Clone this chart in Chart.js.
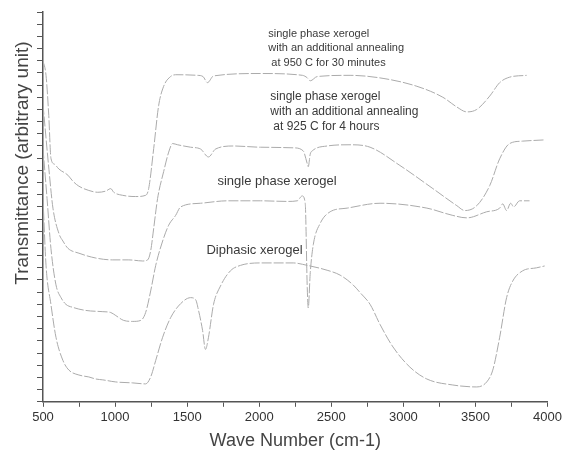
<!DOCTYPE html>
<html>
<head>
<meta charset="utf-8">
<script src="https://cdn.jsdelivr.net/npm/chart.js@4/dist/chart.umd.min.js"></script>
<style>
  html, body { margin: 0; padding: 0; background: #fff; }
  #wrap { width: 565px; height: 460px; }
</style>
</head>
<body>
<div id="wrap"><canvas id="ir"></canvas></div>
<script>
// IR spectra, [wave number, transmittance] pairs
const annealed950 = [
  [500, 28.0], [521, 26.8], [540, 23.5], [555, 20.0], [580, 19.5], [611, 19.1], [673, 18.6],
  [708, 18.1], [749, 17.7], [818, 17.35], [880, 17.2], [936, 17.3], [970, 17.5], [991, 17.2],
  [1053, 16.95], [1143, 16.85], [1212, 16.95], [1233, 17.5], [1268, 20.8], [1302, 24.3],
  [1337, 25.9], [1385, 26.7], [1420, 26.85], [1572, 26.8], [1610, 26.7], [1641, 26.2],
  [1683, 26.75], [2008, 26.95], [2300, 26.8], [2333, 26.6], [2354, 26.35], [2402, 26.7],
  [2630, 26.8], [2859, 26.55], [3094, 25.9], [3274, 25.0], [3371, 24.2], [3440, 23.8],
  [3509, 24.0], [3599, 25.1], [3668, 26.2], [3737, 26.65], [3855, 26.8]
];
const annealed925 = [
  [500, 24.4], [541, 19.1], [569, 15.9], [611, 13.8], [638, 13.2], [673, 12.6], [749, 12.2],
  [867, 11.8], [984, 11.65], [1095, 11.65], [1192, 11.56], [1226, 11.65], [1247, 12.4],
  [1268, 14.25], [1295, 16.7], [1337, 18.9], [1372, 20.5], [1399, 21.2], [1434, 21.1],
  [1524, 20.9], [1593, 20.75], [1648, 20.1], [1697, 20.75], [1821, 21.0], [2008, 20.9],
  [2236, 20.85], [2305, 20.6], [2333, 19.55], [2340, 19.3], [2354, 20.35], [2368, 20.6],
  [2471, 21.0], [2630, 21.1], [2769, 20.9], [2976, 19.4], [3205, 17.5], [3371, 16.1],
  [3426, 15.7], [3509, 16.1], [3599, 17.75], [3668, 19.95], [3737, 21.2], [3827, 21.4],
  [3980, 21.5]
];
const singlePhase = [
  [500, 20.8], [528, 16.7], [555, 12.6], [590, 9.6], [625, 8.55], [659, 8.0], [708, 7.75],
  [797, 7.5], [915, 7.4], [970, 7.33], [1005, 7.08], [1060, 6.68], [1123, 6.6], [1178, 6.68],
  [1212, 7.33], [1247, 9.1], [1282, 11.2], [1330, 13.2], [1372, 14.5], [1420, 15.3],
  [1455, 16.0], [1593, 16.3], [1780, 16.5], [2008, 16.5], [2195, 16.45], [2264, 16.5],
  [2298, 16.9], [2319, 16.3], [2333, 9.4], [2340, 7.7], [2354, 10.6], [2375, 12.9],
  [2423, 14.65], [2492, 15.6], [2610, 15.9], [2838, 16.3], [3163, 15.9], [3343, 15.3],
  [3440, 15.1], [3578, 15.6], [3668, 15.9], [3689, 16.25], [3716, 15.7], [3744, 16.3],
  [3765, 16.0], [3806, 16.5], [3875, 16.5]
];
const diphasic = [
  [500, 16.7], [521, 11.2], [555, 8.0], [590, 5.3], [638, 3.4], [680, 2.6], [749, 2.2],
  [818, 2.04], [867, 1.87], [915, 1.8], [1005, 1.63], [1123, 1.55], [1212, 1.47], [1247, 2.04],
  [1282, 3.4], [1330, 5.3], [1385, 6.9], [1455, 8.06], [1524, 8.55], [1558, 8.4], [1579, 7.5],
  [1607, 5.86], [1627, 4.3], [1648, 5.3], [1683, 8.0], [1731, 9.5], [1800, 10.75],
  [1870, 11.2], [2008, 11.4], [2236, 11.4], [2333, 11.2], [2471, 10.8], [2561, 10.4],
  [2651, 9.6], [2700, 8.96], [2769, 8.0], [2838, 6.35], [2928, 4.5], [3045, 2.85],
  [3163, 1.87], [3343, 1.38], [3509, 1.22], [3578, 1.63], [3620, 2.6], [3668, 5.3],
  [3716, 8.55], [3758, 9.9], [3827, 10.75], [3924, 11.0], [3980, 11.15]
];

const waveTicks = [500, 1000, 1500, 2000, 2500, 3000, 3500, 4000];

const label950 = ['single phase xerogel', 'with an additional annealing', 'at 950 C for 30 minutes'];
const label925 = ['single phase xerogel', 'with an additional annealing', 'at 925 C for 4 hours'];
const labelSingle = ['single phase xerogel'];
const labelDiphasic = ['Diphasic xerogel'];
const yTitle = 'Transmittance (arbitrary unit)';

// where each text block sits, in axis units
const notes = [
  { lines: label950, x: 2063, y: 30.2, size: 11, gap: 14.5 },
  { lines: label925, x: 2077, y: 25.08, size: 12, gap: 15 },
  { lines: labelSingle, x: 1710, y: 18.08, size: 13, gap: 15 },
  { lines: labelDiphasic, x: 1634, y: 12.46, size: 13, gap: 15 }
];

const FONT = '"Liberation Sans", Arial, sans-serif';

const curveStyle = {
  borderColor: '#ababab',
  borderWidth: 1,
  borderDash: [10, 2],
  pointRadius: 0,
  fill: false,
  cubicInterpolationMode: 'monotone'
};

function toPoints(pairs) {
  return pairs.map(([x, y]) => ({ x, y }));
}

// curve captions plus the vertical axis title (sits above the axis middle)
const noteText = {
  id: 'noteText',
  afterDatasetsDraw(chart) {
    const { ctx, scales } = chart;
    ctx.save();
    ctx.fillStyle = '#3a3a3a';
    ctx.textAlign = 'left';
    ctx.textBaseline = 'middle';
    notes.forEach((note) => {
      const px = scales.x.getPixelForValue(note.x);
      const py = scales.y.getPixelForValue(note.y);
      ctx.font = `${note.size}px ${FONT}`;
      note.lines.forEach((line, i) => ctx.fillText(line, px + (i === 2 ? 3 : 0), py + i * note.gap));
    });
    ctx.fillStyle = '#444';
    ctx.font = `19px ${FONT}`;
    ctx.textAlign = 'center';
    ctx.translate(23, scales.y.getPixelForValue(19.6));
    ctx.rotate(-Math.PI / 2);
    ctx.fillText(yTitle, 0, 0);
    ctx.restore();
  }
};

new Chart(document.getElementById('ir'), {
  type: 'line',
  data: {
    datasets: [
      { label: '950 C', data: toPoints(annealed950), ...curveStyle },
      { label: '925 C', data: toPoints(annealed925), ...curveStyle },
      { label: 'single phase', data: toPoints(singlePhase), ...curveStyle },
      { label: 'diphasic', data: toPoints(diphasic), ...curveStyle }
    ]
  },
  options: {
    responsive: true,
    maintainAspectRatio: false,
    animation: false,
    layout: { padding: { left: 37, right: 17, top: 12, bottom: 6 } },
    plugins: { legend: { display: false }, tooltip: { enabled: false } },
    scales: {
      x: {
        type: 'linear',
        min: 500,
        max: 4000,
        border: { display: true, color: '#555', width: 1.5 },
        grid: { display: true, drawOnChartArea: false, drawTicks: true, tickLength: 5, color: '#555' },
        ticks: {
          stepSize: 250,
          autoSkip: false,
          maxRotation: 0,
          padding: 3,
          color: '#333',
          font: { family: FONT, size: 13 },
          callback: (v) => (waveTicks.includes(v) ? String(v) : '')
        },
        title: {
          display: true,
          text: 'Wave Number (cm-1)',
          color: '#444',
          padding: { top: 2, bottom: 2 },
          font: { family: FONT, size: 18 }
        }
      },
      y: {
        min: 0,
        max: 32,
        border: { display: true, color: '#555', width: 1.5 },
        grid: { display: true, drawOnChartArea: false, drawTicks: true, tickLength: 6, color: '#555' },
        ticks: { stepSize: 1, maxTicksLimit: 100, display: false }
      }
    }
  },
  plugins: [noteText]
});
</script>
</body>
</html>
